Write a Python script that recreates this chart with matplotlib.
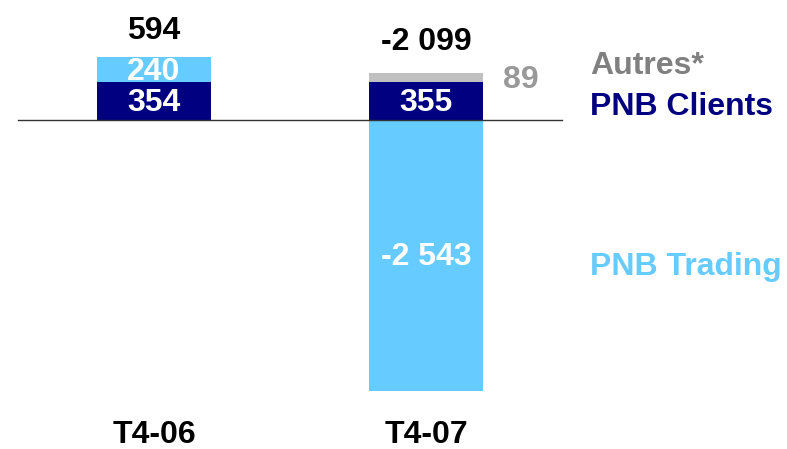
import matplotlib.pyplot as plt
import matplotlib.transforms as mtransforms

plt.rcParams['font.family'] = ['Liberation Sans', 'DejaVu Sans']
plt.rcParams['font.weight'] = 'bold'

# donnees
periodes = ['T4-06', 'T4-07']
pnb_clients = [354, 355]
pnb_autres_pos = [240, 0]      # T4-06 : 240 (bleu clair au-dessus)
autres = [0, 89]
pnb_trading = [0, -2543]
totaux = ['594', '-2 099']

navy = '#000080'
clair = '#66CCFF'
gris = '#C0C0C0'

fig = plt.figure(figsize=(7.87, 4.49), dpi=100)
ax = fig.add_axes([0, 0, 1, 1])
ax.axis('off')

# echelle : 1 categorie = 272 px, 1 unite = 0.1066 px
ax.set_xlim(-154 / 272, (787 - 154) / 272)
ax.set_ylim(-(449 - 120) / 0.1066, 120 / 0.1066)

x = [0, 1]
w = 0.42
ax.bar(x, pnb_clients, width=w, color=navy)
ax.bar(x, pnb_autres_pos, bottom=pnb_clients, width=w, color=clair)
ax.bar(x, autres, bottom=pnb_clients, width=w, color=gris)
ax.bar(x, pnb_trading, width=w, color=clair)

ax.plot([-0.5, 1.5], [0, 0], color='#333333', lw=1)

fs = 23
# valeurs dans les barres
for i in range(2):
    ax.text(x[i], pnb_clients[i] / 2 - 15, str(pnb_clients[i]), ha='center', va='center',
            color='white', fontsize=fs)
ax.text(x[0], pnb_clients[0] + pnb_autres_pos[0] / 2 - 25, str(pnb_autres_pos[0]),
        ha='center', va='center', color='white', fontsize=fs)
ax.text(x[1], pnb_trading[1] * 0.5 - 15, '-2 543', ha='center', va='center',
        color='white', fontsize=fs)
ax.text(x[1] + 0.35, 375, str(autres[1]),
        ha='center', va='center', color='#999999', fontsize=fs)

# totaux
tops = [pnb_clients[0] + pnb_autres_pos[0], pnb_clients[1] + autres[1]]
ax.annotate(totaux[0], (x[0], tops[0]), xytext=(0, 8), textcoords='offset points',
            ha='center', va='bottom', fontsize=fs)
ax.annotate(totaux[1], (x[1], tops[1]), xytext=(0, 11), textcoords='offset points',
            ha='center', va='bottom', fontsize=fs)

# legendes a droite
lx = (590 - 154) / 272
ax.text(lx, (120 - 66) / 0.1066, 'Autres*', color='#808080', fontsize=fs, va='center')
ax.text(lx, (120 - 107) / 0.1066, 'PNB Clients', color=navy, fontsize=fs, va='center')
ax.text(lx, (120 - 267) / 0.1066, 'PNB Trading', color=clair, fontsize=fs, va='center')

# periodes
trans = mtransforms.blended_transform_factory(ax.transData, ax.transAxes)
for i, p in enumerate(periodes):
    ax.text(x[i], 1 - 435 / 449, p, transform=trans, ha='center', va='center', fontsize=fs)

fig.savefig('out.png', dpi=100)
